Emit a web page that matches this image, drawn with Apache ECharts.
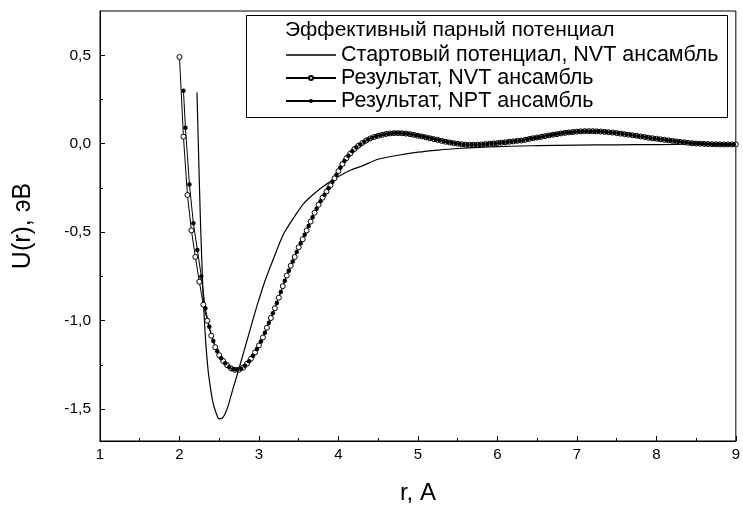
<!DOCTYPE html>
<html>
<head>
<meta charset="utf-8">
<script src="https://cdn.jsdelivr.net/npm/echarts@6/dist/echarts.min.js"></script>
<style>
  html, body { margin: 0; padding: 0; background: #fff; }
  #main { width: 743px; height: 515px; }
</style>
</head>
<body>
<div id="main"></div>
<script>
// стартовый потенциал (сплошная линия)
var rStart = [2.22,2.24,2.26,2.28,2.30,2.33,2.36,2.39,2.42,2.46,
  2.50,2.54,2.58,2.62,2.67,2.73,2.80,2.87,2.94,3.00,
  3.08,3.20,3.31,3.45,3.56,3.70,3.86,4.00,4.15,4.30,
  4.50,4.75,5.00,5.25,5.50,6.00,6.50,7.00,7.50,8.00,
  8.50,9.00];
var uStart = [0.29,-0.05,-0.38,-0.65,-0.88,-1.12,-1.28,-1.38,-1.46,-1.52,
  -1.555,-1.55,-1.52,-1.47,-1.39,-1.30,-1.19,-1.08,-0.97,-0.88,
  -0.77,-0.63,-0.51,-0.41,-0.34,-0.28,-0.225,-0.185,-0.15,-0.125,
  -0.088,-0.065,-0.048,-0.036,-0.027,-0.016,-0.011,-0.008,-0.006,-0.005,
  -0.004,-0.003];

// результат, NVT ансамбль (пустые кружки)
var rNvt = [2.00,2.05,2.10,2.15,2.20,2.25,2.30,2.35,2.40,2.45,
  2.50,2.55,2.60,2.65,2.70,2.75,2.80,2.85,2.90,2.95,
  3.00,3.05,3.10,3.15,3.20,3.25,3.30,3.35,3.40,3.45,
  3.50,3.55,3.60,3.65,3.70,3.75,3.80,3.85,3.90,3.95,
  4.00,4.05,4.10,4.15,4.20,4.25,4.30,4.35,4.40,4.45,
  4.50,4.55,4.60,4.65,4.70,4.75,4.80,4.85,4.90,4.95,
  5.00,5.05,5.10,5.15,5.20,5.25,5.30,5.35,5.40,5.45,
  5.50,5.55,5.60,5.65,5.70,5.75,5.80,5.85,5.90,5.95,
  6.00,6.05,6.10,6.15,6.20,6.25,6.30,6.35,6.40,6.45,
  6.50,6.55,6.60,6.65,6.70,6.75,6.80,6.85,6.90,6.95,
  7.00,7.05,7.10,7.15,7.20,7.25,7.30,7.35,7.40,7.45,
  7.50,7.55,7.60,7.65,7.70,7.75,7.80,7.85,7.90,7.95,
  8.00,8.05,8.10,8.15,8.20,8.25,8.30,8.35,8.40,8.45,
  8.50,8.55,8.60,8.65,8.70,8.75,8.80,8.85,8.90,8.95,
  9.00];
var uNvt = [0.49,0.04,-0.29,-0.49,-0.64,-0.78,-0.91,-1.00,-1.085,-1.15,
  -1.195,-1.228,-1.252,-1.27,-1.278,-1.277,-1.265,-1.243,-1.215,-1.18,
  -1.14,-1.095,-1.04,-0.985,-0.93,-0.87,-0.805,-0.745,-0.69,-0.64,
  -0.585,-0.54,-0.49,-0.44,-0.39,-0.345,-0.305,-0.27,-0.235,-0.195,
  -0.155,-0.115,-0.082,-0.055,-0.03,-0.012,0.004,0.018,0.03,0.038,
  0.045,0.05,0.055,0.058,0.06,0.06,0.059,0.057,0.054,0.05,
  0.045,0.041,0.036,0.031,0.026,0.021,0.016,0.011,0.007,0.003,
  0.0,-0.003,-0.005,-0.006,-0.006,-0.005,-0.004,-0.002,0.0,0.002,
  0.004,0.006,0.008,0.011,0.013,0.016,0.018,0.022,0.027,0.031,
  0.035,0.039,0.043,0.047,0.051,0.054,0.058,0.061,0.064,0.066,
  0.068,0.07,0.071,0.071,0.071,0.07,0.069,0.067,0.065,0.063,
  0.06,0.057,0.054,0.051,0.048,0.045,0.041,0.038,0.034,0.031,
  0.028,0.025,0.022,0.019,0.016,0.013,0.01,0.008,0.005,0.003,
  0.001,0.0,-0.001,-0.002,-0.003,-0.003,-0.004,-0.004,-0.004,-0.004,
  -0.004];

// результат, NPT ансамбль (залитые точки)
var rNpt = [2.05,2.075,2.125,2.175,2.225,2.275,2.325,2.375,2.425,2.475,
  2.525,2.575,2.625,2.675,2.725,2.775,2.825,2.875,2.925,2.975,
  3.025,3.075,3.125,3.175,3.225,3.275,3.325,3.375,3.425,3.475,
  3.525,3.575,3.625,3.675,3.725,3.775,3.825,3.875,3.925,3.975,
  4.025,4.075,4.125,4.175,4.225,4.275,4.325,4.375,4.425,4.475,
  4.525,4.575,4.625,4.675,4.725,4.775,4.825,4.875,4.925,4.975,
  5.025,5.075,5.125,5.175,5.225,5.275,5.325,5.375,5.425,5.475,
  5.525,5.575,5.625,5.675,5.725,5.775,5.825,5.875,5.925,5.975,
  6.025,6.075,6.125,6.175,6.225,6.275,6.325,6.375,6.425,6.475,
  6.525,6.575,6.625,6.675,6.725,6.775,6.825,6.875,6.925,6.975,
  7.025,7.075,7.125,7.175,7.225,7.275,7.325,7.375,7.425,7.475,
  7.525,7.575,7.625,7.675,7.725,7.775,7.825,7.875,7.925,7.975,
  8.025,8.075,8.125,8.175,8.225,8.275,8.325,8.375,8.425,8.475,
  8.525,8.575,8.625,8.675,8.725,8.775,8.825,8.875,8.925,8.975];
var uNpt = [0.30,0.09,-0.23,-0.45,-0.60,-0.75,-0.93,-1.035,-1.115,-1.173,
  -1.212,-1.24,-1.262,-1.275,-1.278,-1.272,-1.255,-1.23,-1.198,-1.16,
  -1.118,-1.068,-1.012,-0.958,-0.90,-0.838,-0.775,-0.718,-0.665,-0.612,
  -0.562,-0.515,-0.465,-0.415,-0.368,-0.325,-0.288,-0.252,-0.215,-0.175,
  -0.135,-0.098,-0.068,-0.042,-0.021,-0.004,0.011,0.024,0.034,0.042,
  0.048,0.053,0.057,0.059,0.06,0.06,0.058,0.056,0.052,0.048,
  0.043,0.039,0.034,0.029,0.024,0.019,0.014,0.009,0.005,0.002,
  -0.002,-0.004,-0.006,-0.006,-0.006,-0.005,-0.003,-0.001,0.001,0.003,
  0.005,0.007,0.01,0.012,0.015,0.017,0.02,0.025,0.029,0.033,
  0.037,0.041,0.045,0.049,0.053,0.056,0.06,0.063,0.065,0.067,
  0.069,0.071,0.071,0.071,0.071,0.07,0.068,0.066,0.064,0.062,
  0.059,0.056,0.053,0.05,0.047,0.043,0.04,0.036,0.033,0.03,
  0.027,0.024,0.021,0.018,0.015,0.012,0.009,0.007,0.004,0.002,
  0.001,0.0,-0.001,-0.002,-0.003,-0.003,-0.004,-0.004,-0.004,-0.004];

var yMajor = [-1.5, -1.0, -0.5, 0.0, 0.5];
var yMinor = [-1.25, -0.75, -0.25, 0.25];

var legendTitle = 'Эффективный парный потенциал';
var names = ['Стартовый потенциал, NVT ансамбль', 'Результат, NVT ансамбль', 'Результат, NPT ансамбль'];

function zip(xs, ys) {
  var out = [];
  for (var i = 0; i < xs.length; i++) {
    out.push([xs[i], ys[i]]);
  }
  return out;
}

var font = '"Liberation Sans", Arial, sans-serif';
var dom = document.getElementById('main');
var myChart = echarts.init(dom);

var option = {
  backgroundColor: '#fff',
  animation: false,
  textStyle: { fontFamily: font, color: '#000' },
  grid: {
    left: 100, right: 7, top: 11, bottom: 74,
    show: true, borderColor: '#000', borderWidth: 1, backgroundColor: 'transparent'
  },
  graphic: [
    {
      type: 'rect', left: 246, top: 15, z: 10,
      shape: { width: 481, height: 102 },
      style: { fill: '#fff', stroke: '#000', lineWidth: 1 }
    },
    {
      type: 'text', left: 285, top: 20, z: 11,
      style: { text: legendTitle, font: '21px ' + font, fill: '#000' }
    }
  ],
  legend: {
    data: [
      { name: names[0], icon: 'path://M0,0L50,0L50,1.6L0,1.6Z' },
      { name: names[1] },
      { name: names[2] }
    ],
    orient: 'vertical',
    left: 285, top: 44,
    padding: 0,
    itemWidth: 50, itemHeight: 5, itemGap: 1,
    z: 12,
    textStyle: { fontSize: 21.5, color: '#000', fontFamily: font }
  },
  xAxis: {
    type: 'value', min: 1, max: 9, interval: 1,
    name: 'r, A', nameLocation: 'middle', nameGap: 40,
    nameTextStyle: { fontSize: 24, color: '#000', fontFamily: font },
    axisLine: { show: true, onZero: false, lineStyle: { color: '#000', width: 1 } },
    axisTick: { show: true, inside: true, length: 5, lineStyle: { color: '#000' } },
    minorTick: { show: true, splitNumber: 2, length: 3, lineStyle: { color: '#000' } },
    axisLabel: { fontSize: 15, color: '#000', margin: 6, fontFamily: font },
    splitLine: { show: false }
  },
  yAxis: [
    {
      type: 'value', min: -1.68, max: 0.75, position: 'left',
      name: 'U(r), эВ', nameLocation: 'middle', nameGap: 64,
      nameTextStyle: { fontSize: 25, color: '#000', fontFamily: font },
      axisLine: { show: true, onZero: false, lineStyle: { color: '#000', width: 1 } },
      axisTick: { show: true, inside: true, length: 5, customValues: yMajor, lineStyle: { color: '#000' } },
      axisLabel: {
        fontSize: 15.5, color: '#000', margin: 9, fontFamily: font, customValues: yMajor,
        formatter: function (v) { return v.toFixed(1).replace('.', ','); }
      },
      splitLine: { show: false }
    },
    {
      type: 'value', min: -1.68, max: 0.75, position: 'left', offset: 0,
      axisLine: { show: false, onZero: false },
      axisTick: { show: true, inside: true, length: 3, customValues: yMinor, lineStyle: { color: '#000' } },
      axisLabel: { show: false },
      splitLine: { show: false }
    }
  ],
  series: [
    {
      name: names[0], type: 'line', data: zip(rStart, uStart),
      showSymbol: false, symbol: 'none', smooth: 0.3,
      lineStyle: { color: '#000', width: 1.2 }, itemStyle: { color: '#000' }
    },
    {
      name: names[1], type: 'line', data: zip(rNvt, uNvt),
      symbol: 'circle', symbolSize: 5, showAllSymbol: true,
      lineStyle: { color: '#000', width: 1 },
      itemStyle: { color: '#fff', borderColor: '#000', borderWidth: 1 }
    },
    {
      name: names[2], type: 'line', data: zip(rNpt, uNpt),
      symbol: 'circle', symbolSize: 4.5, showAllSymbol: true,
      lineStyle: { color: '#000', width: 1 },
      itemStyle: { color: '#000', borderColor: '#000', borderWidth: 0 }
    }
  ]
};

myChart.setOption(option);
</script>
</body>
</html>
